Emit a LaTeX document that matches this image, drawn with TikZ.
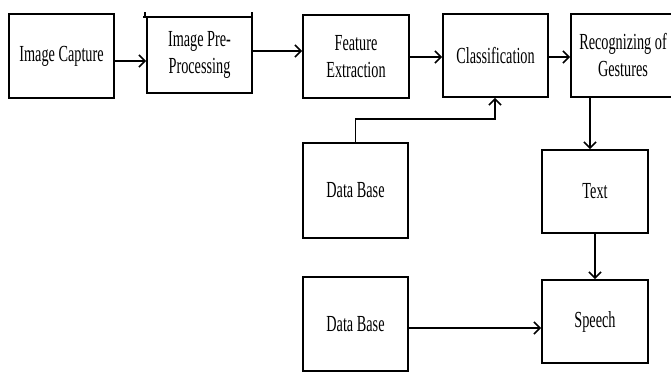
\documentclass[tikz,border=0pt]{standalone}
\usepackage{fontspec}
\setmainfont{Liberation Serif}[FakeStretch=0.62]
\usetikzlibrary{arrows.meta}
\begin{document}
\begin{tikzpicture}[x=1pt,y=-1pt,
  box/.style={draw,line width=1.8pt,inner sep=0pt,align=center,font=\fontsize{23}{27}\selectfont},
  conn/.style={line width=1.8pt,-{Straight Barb[length=6pt,width=12pt,line width=1.6pt]}},
  plain/.style={line width=1.8pt}]
\useasboundingbox (0,0) rectangle (671,372);
\clip (0,0) rectangle (671,372);
\node[box,minimum width=105pt,minimum height=84pt] (cap) at (61.5,56) {Image Capture};
\node[box,minimum width=105pt,minimum height=76pt] (pre) at (199.5,55) {Image Pre-\\Processing};
\draw[plain] (143,17) -- (252,17);
\draw[plain] (145,12) -- (145,17);
\draw[plain] (252,12) -- (252,17);
\node[box,minimum width=106pt,minimum height=83pt] (fea) at (356,56.5) {Feature\\Extraction};
\node[box,minimum width=105pt,minimum height=83pt] (cls) at (495.5,55.5) {Classification};
\node[box,minimum width=104pt,minimum height=83pt] (rec) at (623,55.5) {Recognizing of\\Gestures};
\node[box,minimum width=106pt,minimum height=83pt] (txt) at (595,191.5) {Text};
\node[box,minimum width=106pt,minimum height=83pt] (sp) at (595,321.5) {Speech};
\node[box,minimum width=105pt,minimum height=95pt] (db1) at (355.5,190.5) {Data Base};
\node[box,minimum width=105pt,minimum height=94pt] (db2) at (355.5,324) {Data Base};
\draw[conn] (cap.east |- 0,61) -- (pre.west |- 0,61);
\draw[conn] (pre.east |- 0,51) -- (fea.west |- 0,51);
\draw[conn] (fea.east |- 0,57) -- (cls.west |- 0,57);
\draw[conn] (cls.east |- 0,57) -- (rec.west |- 0,57);
\draw[conn] (db1.north) -- ++(0,-23) -| (cls.south -| 495,0);
\draw[conn] (rec.south -| 590,0) -- (txt.north -| 590,0);
\draw[conn] (txt.south) -- (sp.north);
\draw[conn] (db2.east |- 0,328) -- (sp.west |- 0,328);
\end{tikzpicture}
\end{document}
